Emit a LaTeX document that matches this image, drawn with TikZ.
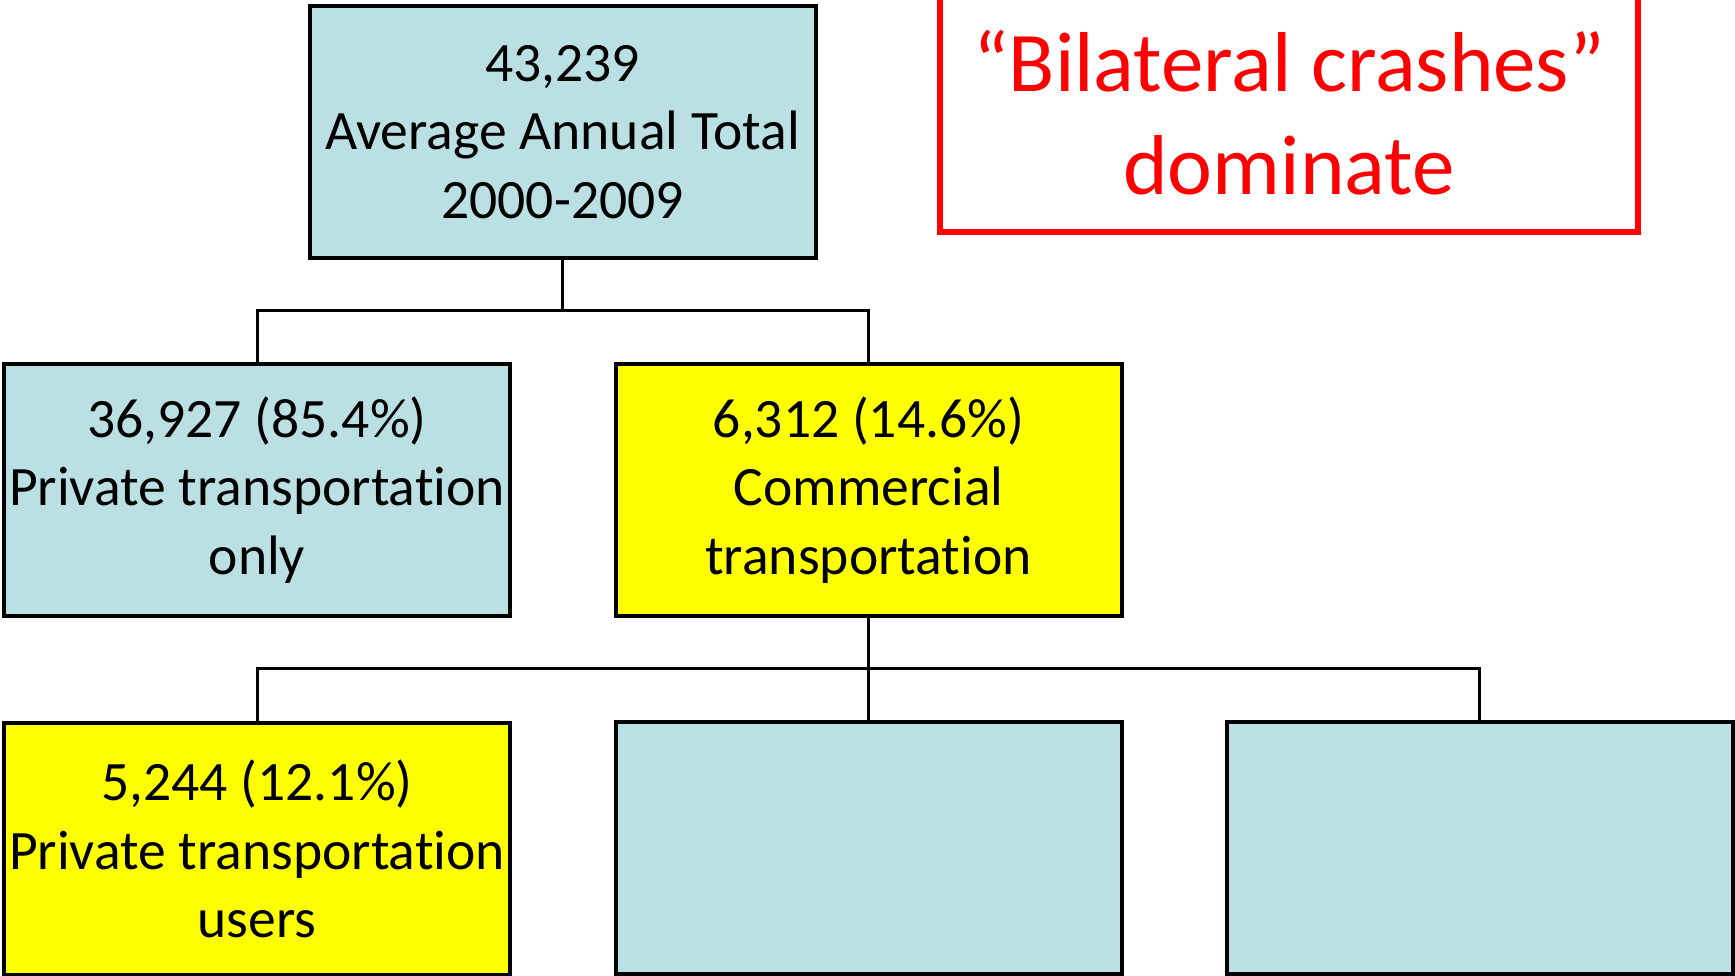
\documentclass[tikz,border=0pt]{standalone}
\usepackage{fontspec}
\setmainfont{Carlito}[Ligatures=NoCommon]
\usetikzlibrary{calc}

\definecolor{lightcyan}{HTML}{BBE0E3}
\definecolor{brightyellow}{HTML}{FFFF00}
\definecolor{brightred}{HTML}{FF0000}

\tikzset{
  crashbox/.style={draw=black,line width=2pt,minimum width=253pt,minimum height=126pt,
    inner sep=0pt,align=center,font=\fontsize{27.8}{34.3}\selectfont},
  privbox/.style={crashbox,fill=lightcyan},
  commbox/.style={crashbox,fill=brightyellow},
  link/.style={black,line width=1.5pt}
}

\begin{document}
\begin{tikzpicture}[x=0.5pt,y=-0.5pt]
\useasboundingbox (0,0) rectangle (1735,975);
\coordinate (A) at (562.5,132);
\coordinate (B) at (257,490);
\coordinate (C) at (868.5,490);
\coordinate (D) at (257,849);
\coordinate (E) at (868.5,847.5);
\coordinate (F) at (1479.5,847.5);
\coordinate (G) at (1289,113);
\coordinate (bus1) at (562.5,310);
\coordinate (bus2) at (868.5,668);
\node[privbox] (total) at (A) {43,239\\Average Annual Total\\2000-2009};
\node[privbox] (private) at (B) {36,927 (85.4\%)\\Private transportation\\only};
\node[commbox] (commercial) at (C) {6,312 (14.6\%)\\Commercial\\transportation};
\node[commbox] (users) at (D) {5,244 (12.1\%)\\Private transportation\\users};
\node[privbox] (blankmid) at (E) {};
\node[privbox] (blankright) at (F) {};
\node[draw=brightred,line width=3pt,minimum width=349pt,minimum height=119pt,align=center,
  text=brightred,font=\fontsize{42.5}{51.5}\selectfont] (bilateral) at (G)
  {``Bilateral crashes''\\dominate};
\draw[link] (total.south) -- (bus1);
\draw[link] (private.north) |- (bus1) -| (commercial.north);
\draw[link] (commercial.south) -- (bus2) -- (blankmid.north);
\draw[link] (users.north) |- (bus2) -| (blankright.north);
\end{tikzpicture}
\end{document}
